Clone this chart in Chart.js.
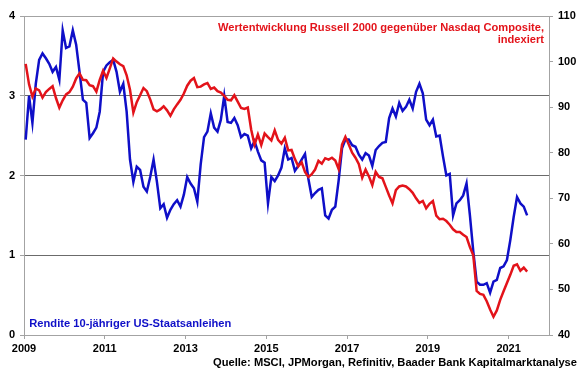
<!DOCTYPE html>
<html><head><meta charset="utf-8">
<script src="https://cdn.jsdelivr.net/npm/chart.js@4.4.1/dist/chart.umd.min.js"></script>
<style>html,body{margin:0;padding:0;background:#fff;}#wrap{width:580px;height:375px;position:relative;}</style>
</head><body><div id="wrap"><canvas id="c" width="580" height="375"></canvas></div>
<script>
const startYear = 2009;
const yearTicks = [2009, 2011, 2013, 2015, 2017, 2019, 2021];
const leftTicks = [0, 1, 2, 3, 4];
const rightTicks = [40, 50, 60, 70, 80, 90, 100, 110];

// Rendite 10-jähriger US-Staatsanleihen (%), monthly Jan 2009 - Jun 2021
const bondYield = [
  2.45, 3.0, 2.66, 3.15, 3.45, 3.53, 3.47, 3.4, 3.3, 3.36, 3.2, 3.82,
  3.6, 3.62, 3.82, 3.64, 3.3, 2.95, 2.91, 2.47, 2.53, 2.6, 2.8, 3.3,
  3.38, 3.42, 3.45, 3.3, 3.05, 3.15, 2.8, 2.2, 1.92, 2.11, 2.07, 1.86,
  1.8, 1.98, 2.2, 1.92, 1.59, 1.64, 1.47, 1.57, 1.64, 1.69, 1.61, 1.76,
  1.98, 1.9, 1.84, 1.67, 2.14, 2.48, 2.55, 2.78, 2.6, 2.55, 2.7, 3.0,
  2.67, 2.66, 2.72, 2.63, 2.48, 2.52, 2.5, 2.34, 2.43, 2.3, 2.19, 2.16,
  1.65, 1.98, 1.93, 2.0, 2.1, 2.34, 2.2, 2.22, 2.06, 2.12, 2.2, 2.27,
  1.96, 1.73, 1.78, 1.82, 1.84, 1.5, 1.46, 1.57, 1.61, 1.94, 2.34, 2.45,
  2.45, 2.38, 2.36, 2.26, 2.2, 2.28, 2.25, 2.12, 2.32, 2.37, 2.41, 2.42,
  2.72, 2.84, 2.74, 2.91, 2.81, 2.86, 2.95, 2.84, 3.05, 3.15, 3.03, 2.7,
  2.63, 2.7, 2.49, 2.5, 2.24, 2.0, 2.02, 1.5, 1.65, 1.69, 1.75, 1.9,
  1.5, 1.05, 0.67, 0.63, 0.63, 0.65, 0.53, 0.67, 0.69, 0.84, 0.86, 0.94,
  1.19, 1.48, 1.73, 1.65, 1.61, 1.5
];

// Wertentwicklung Russell 2000 gegenüber Nasdaq Composite, indexiert
const russellVsNasdaq = [
  99.5, 95, 92.3, 94.1, 93.7, 92.1, 93.3, 94, 94.6, 92, 89.9, 91.5,
  92.8, 93.3, 94.5, 96.3, 97.4, 96, 95.9, 94.8, 94.6, 93.4, 96, 98,
  96.4, 98.5, 100.7, 100, 99.4, 99, 97, 93.8, 88.8, 91.1, 92.6, 94.2,
  93.5, 91.7, 89.5, 89.1, 89.5, 90.2, 89.3, 88.1, 89.5, 90.6, 91.6, 93,
  94.7, 95.8, 96.4, 94.4, 94.5, 95, 95.3, 94, 94.3, 93.5, 93.2, 92.5,
  91.6, 91.5, 92.6, 91.2, 89.8, 89.6, 89.9, 85.1, 81.8, 84, 81.7, 84.2,
  83.4, 82.7, 84.9, 82.8, 82, 83.3, 80.5, 80.6, 78.6, 77, 77.9, 75.8,
  74.7, 75.3, 76.3, 78.2, 77.6, 78.8, 78.5, 78.9, 78.3, 76.4, 81.8, 83.5,
  81.8, 80, 78.9, 77.5, 74.5, 76.3, 74.8, 72.9, 75.8, 74.7, 74.4, 72.5,
  70.6, 68.9, 71.8, 72.6, 72.8, 72.6, 72, 71.2, 70, 69, 69.4, 67.8,
  68.8, 69.4, 66.2, 65.4, 65.5, 65, 64.2, 63.2, 62.6, 62.6, 62, 61.5,
  59.3, 57.5, 49.7, 49, 48.8, 47.4, 45.6, 44, 45.4, 47.7, 49.6, 51.4,
  53.2, 55.2, 55.5, 54.1, 54.8, 53.9
];

const titleRed = ["Wertentwicklung Russell 2000 gegenüber Nasdaq Composite,", "indexiert"];
const labelBlue = "Rendite 10-jähriger US-Staatsanleihen";
const sourceText = "Quelle: MSCI, JPMorgan, Refinitiv, Baader Bank Kapitalmarktanalyse";

const RED = '#e3131a';
const BLUE = '#0f0fc8';
const AXIS = '#a3a3a3';
const GRID = '#6b6b6b';
const FONT = '"Liberation Sans", Arial, sans-serif';

function monthX(i) { return startYear + (i + 0.5) / 12; }

function fitText(ctx, text, x, y, targetW, align) {
  const w = ctx.measureText(text).width;
  const sx = targetW / w;
  ctx.save();
  ctx.translate(x, y);
  ctx.scale(sx, 1);
  ctx.textAlign = align;
  ctx.fillText(text, 0, 0);
  ctx.restore();
  return sx;
}

const textPlugin = {
  id: 'texts',
  afterDraw(chart) {
    const ctx = chart.ctx;
    ctx.save();
    ctx.font = 'bold 11px ' + FONT;
    ctx.textBaseline = 'alphabetic';
    ctx.fillStyle = RED;
    const sx = fitText(ctx, titleRed[0], 544, 30.5, 326, 'right');
    ctx.save();
    ctx.translate(544, 43.3);
    ctx.scale(sx, 1);
    ctx.textAlign = 'right';
    ctx.fillText(titleRed[1], 0, 0);
    ctx.restore();
    ctx.fillStyle = BLUE;
    fitText(ctx, labelBlue, 29.3, 326.5, 202, 'left');
    ctx.fillStyle = '#000';
    fitText(ctx, sourceText, 577, 365.5, 364, 'right');
    ctx.restore();
  }
};

const bgPlugin = {
  id: 'bg',
  beforeDraw(chart) {
    const ctx = chart.ctx;
    ctx.save();
    ctx.fillStyle = '#fff';
    ctx.fillRect(0, 0, chart.width, chart.height);
    ctx.restore();
  }
};

new Chart(document.getElementById('c'), {
  type: 'line',
  data: {
    datasets: [
      {
        label: titleRed.join(' '),
        data: russellVsNasdaq.map((v, i) => ({ x: monthX(i), y: v })),
        yAxisID: 'y2',
        borderColor: RED,
        borderWidth: 2.5,
        pointRadius: 0,
        tension: 0,
        order: 0
      },
      {
        label: labelBlue,
        data: bondYield.map((v, i) => ({ x: monthX(i), y: v })),
        yAxisID: 'y',
        borderColor: BLUE,
        borderWidth: 2.5,
        pointRadius: 0,
        tension: 0,
        order: 1
      }
    ]
  },
  options: {
    responsive: false,
    animation: false,
    devicePixelRatio: 1,
    layout: { padding: { top: 16, left: 0, right: 0, bottom: 0 } },
    plugins: { legend: { display: false }, tooltip: { enabled: false }, title: { display: false } },
    scales: {
      x: {
        type: 'linear',
        position: 'bottom',
        min: startYear,
        max: 2022,
        afterBuildTicks: s => { s.ticks = yearTicks.map(v => ({ value: v })); },
        afterFit: s => { s.height = 40; },
        ticks: {
          color: '#000', font: { family: FONT, size: 11, weight: 'bold' },
          padding: 3, maxRotation: 0, autoSkip: false,
          callback: v => String(v)
        },
        grid: { drawOnChartArea: false, drawTicks: true, tickLength: 4, tickColor: AXIS },
        border: { color: AXIS, width: 1 }
      },
      y: {
        position: 'left',
        min: 0, max: 4,
        afterBuildTicks: s => { s.ticks = leftTicks.map(v => ({ value: v })); },
        afterFit: s => { s.width = 24; },
        ticks: { color: '#000', font: { family: FONT, size: 11, weight: 'bold' }, padding: 5 },
        grid: {
          color: c => (c.tick && (c.tick.value === 0 || c.tick.value === 4)) ? AXIS : GRID,
          lineWidth: 1, tickLength: 4, tickColor: AXIS
        },
        border: { color: AXIS, width: 1 }
      },
      y2: {
        position: 'right',
        min: 40, max: 110,
        afterBuildTicks: s => { s.ticks = rightTicks.map(v => ({ value: v })); },
        afterFit: s => { s.width = 31; },
        ticks: { color: '#000', font: { family: FONT, size: 11, weight: 'bold' }, padding: 5 },
        grid: { drawOnChartArea: false, tickLength: 4, tickColor: AXIS },
        border: { color: AXIS, width: 1 }
      }
    }
  },
  plugins: [bgPlugin, textPlugin]
});
</script>
</body></html>
